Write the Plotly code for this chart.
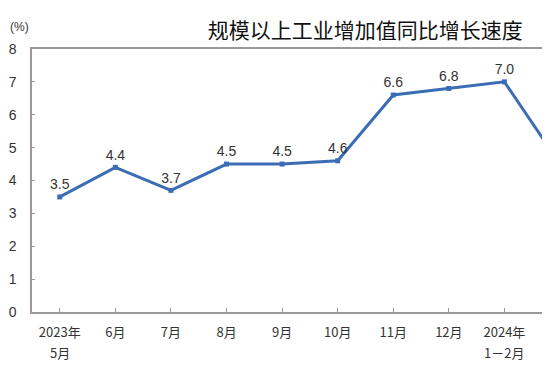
import plotly.graph_objects as go

tick_line1 = ["2023年", "6月", "7月", "8月", "9月", "10月", "11月", "12月", "2024年", "3月"]
tick_line2 = ["5月", "", "", "", "", "", "", "", "1－2月", ""]
values = [3.5, 4.4, 3.7, 4.5, 4.5, 4.6, 6.6, 6.8, 7.0, 4.5]
labels = ["3.5", "4.4", "3.7", "4.5", "4.5", "4.6", "6.6", "6.8", "7.0", "4.5"]
y_ticks = [0, 1, 2, 3, 4, 5, 6, 7, 8]
title_text = "规模以上工业增加值同比增长速度"
unit_text = "(%)"

xs = list(range(len(tick_line1)))

fig = go.Figure()
fig.add_trace(go.Scatter(
    x=xs, y=values, mode="lines+markers+text",
    line=dict(color="#3b6db4", width=3),
    marker=dict(symbol="square", size=5, color="#3b6db4"),
    text=labels, textposition="top center",
    textfont=dict(family="Liberation Sans, Arial", size=14, color="#333333"),
    cliponaxis=False, showlegend=False,
))

annotations = [dict(text=unit_text, xref="paper", yref="paper", x=-0.025, y=1.05,
                    xanchor="center", yanchor="bottom", showarrow=False,
                    font=dict(family="Liberation Sans", size=12, color="#333333"))]
for xi, t in zip(xs, tick_line2):
    if t:
        annotations.append(dict(text=t, xref="x", yref="paper", x=xi, y=-0.112,
                                xanchor="center", yanchor="top", showarrow=False,
                                font=dict(family="Noto Sans CJK SC", size=13, color="#333333")))

fig.update_layout(
    width=542, height=370,
    margin=dict(l=24, r=0, t=41, b=66, autoexpand=False),
    paper_bgcolor="white", plot_bgcolor="white",
    title=dict(text=title_text, x=0.659, xanchor="center", y=0.94, yanchor="middle",
               font=dict(family="Noto Sans CJK SC", size=21, color="#111111"),
               automargin=False),
    annotations=annotations,
    xaxis=dict(
        range=[-0.5, 8.82], tickmode="array", tickvals=xs, ticktext=tick_line1,
        showline=True, linecolor="#999999", linewidth=1.5, mirror=True,
        ticks="inside", ticklen=4, tickcolor="#999999",
        showgrid=False, zeroline=False, automargin=False,
        ticklabelstandoff=8,
        tickfont=dict(family="Noto Sans CJK SC", size=13, color="#333333"),
    ),
    yaxis=dict(
        range=[0, 8], tickvals=y_ticks,
        showline=True, linecolor="#999999", linewidth=1.5,
        ticks="inside", ticklen=3, tickcolor="#999999",
        showgrid=False, zeroline=False, automargin=False,
        ticklabelstandoff=11,
        tickfont=dict(family="Liberation Sans", size=14, color="#333333"),
    ),
)

fig.update_xaxes(tickson="boundaries")

fig.write_html("out.html")
